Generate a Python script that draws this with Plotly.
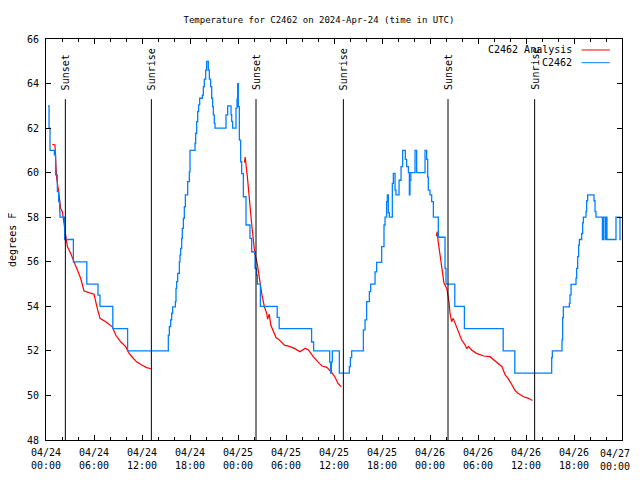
import pandas as pd
import plotly.graph_objects as go

BASE = pd.Timestamp("2024-04-24 00:00")

# --- Observed temperature (C2462), hours since 2024-04-24 00:00 UTC, step data
obs_hours = [0.25, 0.38, 0.5, 1.04, 1.2, 1.42, 1.58, 1.71, 1.75, 2.33, 3.42, 5.1, 6.5, 6.75, 8.35, 10.2,
             15.29, 15.42, 15.58, 15.71, 15.83, 16.17, 16.25, 16.33, 16.46, 16.67, 16.75, 16.83, 16.96,
             17.04, 17.17, 17.29, 17.42, 17.71, 17.92, 18.0, 18.63, 18.71, 18.83, 18.96, 19.08, 19.21,
             19.54, 19.67, 19.79, 19.96, 20.08, 20.29, 20.42, 20.58, 20.71, 20.83, 20.92, 21.04, 21.13,
             22.5, 22.71, 23.13, 23.21, 23.33, 23.75, 23.88, 23.96, 24.04, 24.17, 24.33, 24.46, 24.67,
             25.0, 25.5, 25.71, 26.13, 26.33, 26.42, 26.8, 28.9, 29.15, 33.2, 33.45, 35.46, 35.58, 35.67,
             35.79, 36.67, 37.92, 38.05, 38.21,
             39.67, 39.88, 40.08, 40.42, 40.58, 41.13, 41.33, 41.96, 42.25, 42.38, 42.58, 42.67, 42.79,
             42.92, 43.29, 43.42, 43.63, 43.75, 44.13, 44.38, 44.58, 44.92, 45.08, 45.3, 45.42, 45.5,
             45.6, 46.13, 46.33, 47.38, 47.58, 47.71, 47.79, 48.0, 48.21, 48.42, 49.04, 49.88, 50.0,
             51.1, 52.3, 57.15, 58.6, 63.21, 63.29,
             64.5, 64.58, 64.67, 65.42, 65.5, 65.63, 66.25, 66.33, 66.46, 66.58, 66.67, 66.96, 67.08,
             67.17, 67.5, 67.58, 67.71, 68.5, 68.63, 68.75, 69.55, 69.68, 69.9, 70.02, 70.12, 71.25,
             71.75, 71.85]
obs_temps = [63.0, 62.0, 61.0, 60.8, 59.9, 59.15, 58.7, 58.25, 58.0, 57.0, 56.0, 55.0, 54.5, 54.0, 53.0, 52.0,
             52.71, 53.09, 53.39, 53.69, 53.98, 54.21, 54.81, 55.11, 55.48, 56.0, 56.3, 56.6, 57.05,
             57.5, 57.95, 58.47, 59.0, 59.6, 60.04, 61.0, 61.32, 61.77, 62.29, 62.74, 63.04, 63.34,
             63.48, 63.86, 64.2, 64.6, 65.0, 64.6, 64.2, 63.86, 63.34, 62.96, 62.59, 62.21, 62.0,
             62.59, 63.0, 62.6, 62.3, 62.0, 62.9, 63.3, 64.0, 62.96, 61.46, 60.49, 59.96, 58.92,
             57.65, 57.05, 56.45, 55.7, 55.4, 55.0, 54.0, 53.5, 53.0, 52.4, 52.0, 51.5, 51.0, 51.5,
             52.0, 51.0, 51.3, 51.7, 52.0,
             52.94, 53.39, 54.21, 54.66, 55.0, 55.55, 55.97, 56.68, 57.65, 58.0, 58.7, 59.0, 58.2,
             58.0, 59.52, 59.97, 59.22, 59.0, 59.66, 60.27, 61.0, 60.6, 60.27, 60.0, 59.0, 59.66,
             60.0, 61.0, 60.0, 61.0, 60.6, 59.8, 59.22, 59.0, 58.7, 58.0, 57.1, 55.7, 55.0,
             54.0, 53.0, 52.0, 51.0, 51.7, 52.0,
             52.49, 53.49, 53.98, 54.13, 54.51, 54.99, 55.26, 55.7, 56.23, 56.75, 57.0, 57.27, 57.75,
             58.0, 58.25, 58.74, 59.0, 58.74, 58.25, 58.0, 57.0, 58.0, 57.0, 58.0, 57.0, 58.0,
             57.0, 57.0]

# --- Analysis (three night-time segments, None = gap)
ana_hours = [0.79, 1.12, 1.21, 1.33, 1.58, 1.75, 1.83, 2.04, 2.25, 2.46, 2.67, 3.08, 3.5, 3.92, 4.33,
             4.75, 5.58, 6.0, 6.42, 6.75, 7.46, 8.29, 8.71, 9.33, 9.96, 10.38, 10.9, 11.33, 11.96,
             12.58, 13.13, None,
             24.8, 24.9, 25.17, 25.3, 25.5, 25.7, 25.9, 26.1, 26.4, 26.67, 26.96, 27.3, 27.58, 27.7,
             27.9, 28.1, 28.4, 28.75, 29.25, 29.8, 30.5, 31.1, 31.75, 32.4, 32.8, 33.4, 34.0, 34.5,
             35.1, 35.7, 36.1, 36.5, 36.9, None,
             48.8, 48.9, 49.0, 49.2, 49.4, 49.6, 49.75, 50.1, 50.4, 50.5, 50.7, 50.9, 51.25, 51.5,
             51.96, 52.4, 52.6, 52.8, 53.2, 53.8, 54.7, 55.5, 56.3, 57.0, 57.4, 57.8, 58.2, 58.6,
             59.0, 59.7, 60.3, 60.8]
ana_temps = [61.27, 61.24, 60.57, 59.75, 59.15, 58.7, 58.4, 58.25, 57.65, 57.28, 56.68, 56.38, 56.0,
             55.7, 55.26, 54.69, 54.6, 54.54, 53.9, 53.46, 53.31, 53.08, 52.71, 52.41, 52.19, 51.89,
             51.67, 51.51, 51.37, 51.25, 51.2, None,
             60.45, 60.7, 59.82, 59.2, 58.47, 57.73, 57.05, 56.38, 55.93, 55.18, 54.58, 53.98, 53.69,
             53.42, 53.65, 53.16, 52.86, 52.6, 52.46, 52.26, 52.19, 52.1, 51.96, 52.12, 52.04, 51.74,
             51.51, 51.32, 51.26, 51.04, 50.84, 50.54, 50.39, None,
             57.15, 57.35, 56.97, 56.5, 55.93, 55.48, 55.03, 54.8, 54.14, 53.69, 53.31, 53.46, 53.16,
             52.86, 52.49, 52.26, 52.1, 52.2, 52.04, 51.89, 51.77, 51.74, 51.51, 51.29, 50.92, 50.74,
             50.5, 50.24, 50.1, 49.94, 49.87, 49.77]

# --- Sun events
event_labels = ["Sunset", "Sunrise", "Sunset", "Sunrise", "Sunset", "Sunrise"]
event_hours = [2.42, 13.17, 26.25, 37.17, 50.25, 61.08]
event_line_top = 63.3

# --- Axis ticks
tick_hours = list(range(0, 73, 6))
title_text = "Temperature for C2462 on 2024-Apr-24 (time in UTC)"
ylabel_text = "degrees F"
legend_names = ["C2462 Analysis", "C2462"]
y_range = [48, 66]
x_span_hours = 72

FONT = "DejaVu Sans Mono"
RED = "#ff0000"
BLUE = "#0080ff"

FIG_W, FIG_H = 624, 464   # page body adds an 8px margin on every side


def to_time(hours):
    return [None if h is None else BASE + pd.Timedelta(hours=h) for h in hours]


tick_times = to_time(tick_hours)
tick_texts = [t.strftime("%m/%d<br>%H:%M") for t in tick_times]
# the last label would be clipped at the page edge: draw it right-aligned instead
last_label = tick_texts[-1]
axis_texts = tick_texts[:-1] + [""]

fig = go.Figure()
fig.add_trace(go.Scatter(x=to_time(ana_hours), y=ana_temps, mode="lines",
                         line=dict(color=RED, width=1.2), name=legend_names[0],
                         connectgaps=False, showlegend=False))
fig.add_trace(go.Scatter(x=to_time(obs_hours), y=obs_temps, mode="lines",
                         line=dict(color=BLUE, width=1.3, shape="hv"), name=legend_names[1],
                         showlegend=False))

for lab, h in zip(event_labels, event_hours):
    t = BASE + pd.Timedelta(hours=h)
    fig.add_trace(go.Scatter(x=[t, t], y=[y_range[0], event_line_top], mode="lines",
                             line=dict(color="black", width=1), showlegend=False,
                             hoverinfo="skip"))
    fig.add_annotation(x=t, y=63.62, xref="x", yref="y", text=lab, textangle=-90,
                       showarrow=False, xanchor="center", yanchor="bottom",
                       font=dict(family=FONT, size=10, color="black"))

fig.add_annotation(x=tick_times[-1], y=0, xref="x", yref="paper", text=last_label,
                   showarrow=False, xanchor="right", yanchor="top", xshift=10, yshift=-6,
                   align="center", font=dict(family=FONT, size=10, color="black"))

# manual legend (gnuplot style: text right-aligned, sample line to the right)
leg_y = [0.9726, 0.9409]
for name, col, yy in zip(legend_names, [RED, BLUE], leg_y):
    fig.add_annotation(x=0.9167, y=yy, xref="paper", yref="paper", text=name,
                       showarrow=False, xanchor="right", yanchor="middle",
                       font=dict(family=FONT, size=10, color="black"))
    fig.add_shape(type="line", xref="paper", yref="paper", x0=0.930, x1=0.979,
                  y0=yy, y1=yy, line=dict(color=col, width=1))

fig.add_annotation(x=-0.0573, y=0.4988, xref="paper", yref="paper", text=ylabel_text,
                   textangle=-90, showarrow=False, xanchor="center", yanchor="middle",
                   font=dict(family=FONT, size=10, color="black"))

fig.update_layout(
    width=FIG_W, height=FIG_H,
    margin=dict(l=38, r=10, t=31, b=32),
    paper_bgcolor="white", plot_bgcolor="white",
    title=dict(text=title_text, x=311 / FIG_W, xref="container", y=1 - 12 / FIG_H,
               yref="container", xanchor="center", yanchor="middle",
               font=dict(family=FONT, size=9, color="black")),
    font=dict(family=FONT, size=10, color="black"),
    showlegend=False,
)
fig.update_xaxes(
    type="date",
    range=[BASE, BASE + pd.Timedelta(hours=x_span_hours)],
    tickmode="array", tickvals=tick_times, ticktext=axis_texts,
    ticks="inside", ticklen=5, tickcolor="black", tickwidth=1,
    mirror="allticks", showline=True, linecolor="black", linewidth=1,
    showgrid=False, zeroline=False, ticklabelstandoff=3, automargin=False,
    minor=dict(tick0=BASE, dtick=2 * 3600 * 1000, ticks="inside", ticklen=3,
               tickcolor="black", showgrid=False),
    tickfont=dict(family=FONT, size=10, color="black"),
)
fig.update_yaxes(
    range=y_range, dtick=2, tick0=48,
    ticks="inside", ticklen=5, tickcolor="black", tickwidth=1,
    mirror="allticks", showline=True, linecolor="black", linewidth=1,
    showgrid=False, zeroline=False, ticklabelstandoff=4, automargin=False,
    tickfont=dict(family=FONT, size=10, color="black"),
)

fig.write_html("out.html")
